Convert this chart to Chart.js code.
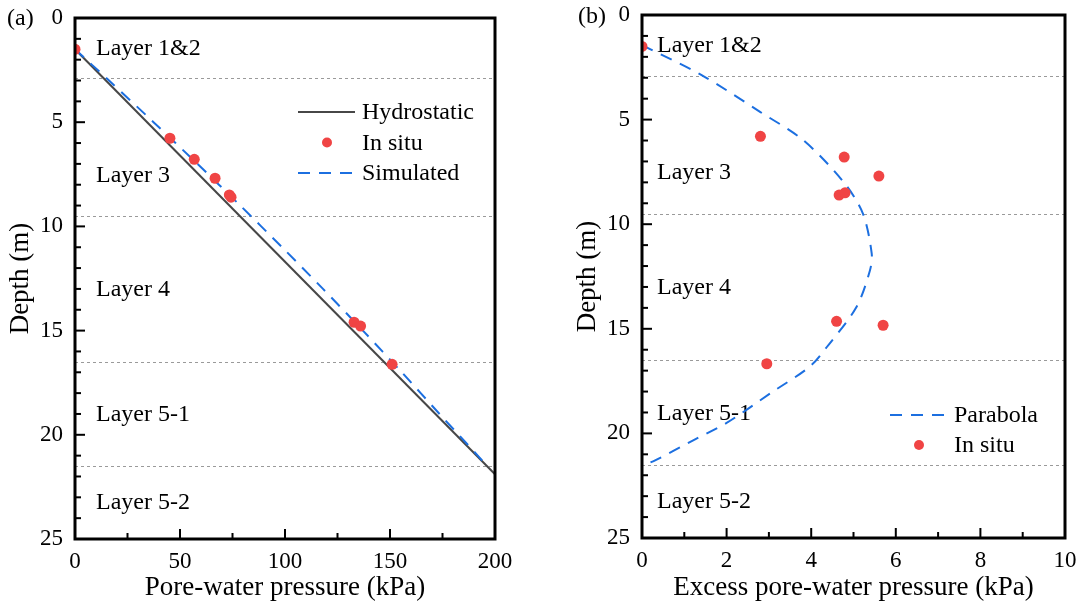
<!DOCTYPE html>
<html>
<head>
<meta charset="utf-8">
<script src="https://cdn.jsdelivr.net/npm/chart.js@4.4.1/dist/chart.umd.min.js"></script>
<style>
  html, body { margin: 0; padding: 0; background: #ffffff; }
  #wrap { position: relative; width: 1079px; height: 604px; overflow: hidden; }
  #ca { position: absolute; left: 0; top: 0; }
  #cb { position: absolute; left: 540px; top: 0; }
</style>
</head>
<body>
<div id="wrap">
  <canvas id="ca" width="540" height="604"></canvas>
  <canvas id="cb" width="539" height="604"></canvas>
</div>
<script>
// ---------------- DATA ----------------
// Panel (a): pore-water pressure (kPa) vs depth (m)
const hydroPressure = [0, 200];
const hydroDepth    = [1.5, 21.89];

const simPressure = [0, 16.2, 37.4, 58.3, 78.7, 98.6, 118.1, 137.1, 155.6, 173.6, 191.8, 196.2];
const simDepth    = [1.5, 3.0, 5.0, 7.0, 9.0, 11.0, 13.0, 15.0, 17.0, 19.0, 21.0, 21.5];

const insituPressureA = [0, 45.2, 56.8, 66.7, 73.5, 74.3, 132.9, 136.0, 151.0];
const insituDepthA    = [1.5, 5.77, 6.78, 7.69, 8.49, 8.60, 14.60, 14.78, 16.62];

// Panel (b): excess pore-water pressure (kPa) vs depth (m)
const parabolaExcess = [0, 1.41, 2.79, 3.81, 4.76, 5.22, 5.43, 5.39, 5.07, 4.37, 3.97, 3.03, 2.00, 1.21, 0.31, 0.05];
const parabolaDepth  = [1.44, 2.87, 4.63, 5.98, 7.97, 9.48, 11.4, 12.2, 13.96, 15.87, 16.8, 18.09, 19.5, 20.33, 21.29, 21.5];

const insituExcessB = [0, 2.80, 4.78, 5.60, 4.66, 4.80, 4.60, 5.70, 2.95];
const insituDepthB  = [1.5, 5.80, 6.79, 7.70, 8.61, 8.50, 14.64, 14.83, 16.67];

// Soil layers
const layerBoundaries = [2.9, 9.5, 16.5, 21.5];
const layerNames      = ['Layer 1&2', 'Layer 3', 'Layer 4', 'Layer 5-1', 'Layer 5-2'];
const layerLabelDepth = [1.45, 7.55, 13.05, 19.05, 23.25];

// Ticks
const depthRange = [0, 25];
const depthStep = 5;
const pressureRangeA = [0, 200];
const pressureStepA = 50;
const excessRangeB = [0, 10];
const excessStepB = 2;

// ---------------- STYLE ----------------
const FONT = "'Liberation Serif', 'Times New Roman', serif";
const RED = '#F04444';
const BLUE = '#1C6FE0';
const GREY = '#474747';
const DASH = [12, 9];
Chart.defaults.font.family = FONT;
Chart.defaults.color = '#000000';

function zip(xs, ys) { return xs.map((x, i) => ({ x: x, y: ys[i] })); }

const decorPlugin = {
  id: 'decor',
  beforeDatasetsDraw(chart) {
    const o = chart.options.plugins.decor;
    const ctx = chart.ctx;
    const ca = chart.chartArea;
    const ys = chart.scales.y;
    ctx.save();
    ctx.strokeStyle = '#9a9a9a';
    ctx.lineWidth = 1;
    ctx.setLineDash([3, 3]);
    layerBoundaries.forEach(d => {
      const py = Math.round(ys.getPixelForValue(d)) + 0.5;
      ctx.beginPath();
      ctx.moveTo(ca.left, py);
      ctx.lineTo(ca.right, py);
      ctx.stroke();
    });
    ctx.setLineDash([]);
    ctx.fillStyle = '#000';
    ctx.font = '24px ' + FONT;
    ctx.textAlign = 'left';
    ctx.textBaseline = 'middle';
    layerNames.forEach((n, i) => {
      ctx.fillText(n, ca.left + o.labelOffset, ys.getPixelForValue(layerLabelDepth[i]));
    });
    ctx.restore();
  },
  afterDraw(chart) {
    const o = chart.options.plugins.decor;
    const ctx = chart.ctx;
    const ca = chart.chartArea;
    const xs = chart.scales.x, ys = chart.scales.y;
    ctx.save();
    ctx.strokeStyle = '#000';
    ctx.lineWidth = 2;
    for (let v = ys.min; v <= ys.max + 1e-9; v += o.yMinor) {
      const major = Math.abs(v / o.yMajor - Math.round(v / o.yMajor)) < 1e-6;
      const py = ys.getPixelForValue(v);
      ctx.beginPath();
      ctx.moveTo(ca.left, py);
      ctx.lineTo(ca.left + (major ? 10 : 6), py);
      ctx.stroke();
    }
    for (let v = xs.min; v <= xs.max + 1e-9; v += o.xMinor) {
      const major = Math.abs(v / o.xMajor - Math.round(v / o.xMajor)) < 1e-6;
      const px = xs.getPixelForValue(v);
      ctx.beginPath();
      ctx.moveTo(px, ca.bottom);
      ctx.lineTo(px, ca.bottom - (major ? 10 : 6));
      ctx.stroke();
    }
    ctx.lineWidth = 3;
    ctx.strokeRect(ca.left, ca.top, ca.right - ca.left, ca.bottom - ca.top);
    ctx.fillStyle = '#000';
    ctx.font = '24px ' + FONT;
    ctx.textAlign = 'left';
    ctx.textBaseline = 'middle';
    ctx.fillText(o.tag, o.tagX, o.tagY);
    const L = o.legend;
    L.items.forEach((it, i) => {
      const yy = L.y + i * L.dy;
      if (it.type === 'line') {
        ctx.strokeStyle = it.color;
        ctx.lineWidth = 2;
        ctx.setLineDash(it.dash || []);
        ctx.beginPath();
        ctx.moveTo(L.x, yy);
        ctx.lineTo(L.x + 57, yy);
        ctx.stroke();
        ctx.setLineDash([]);
      } else {
        ctx.fillStyle = it.color;
        ctx.beginPath();
        ctx.arc(L.x + 29, yy, 5, 0, Math.PI * 2);
        ctx.fill();
      }
      ctx.fillStyle = '#000';
      ctx.fillText(it.label, L.x + 64, yy + 1);
    });
    ctx.restore();
  }
};

function makeScales(xRange, xStep, xTitle, yTitlePad, yWidth, xHeight) {
  return {
    x: {
      type: 'linear', min: xRange[0], max: xRange[1],
      grid: { display: true, drawOnChartArea: false, drawTicks: false, color: 'rgba(0,0,0,0)' },
      border: { display: false },
      ticks: { stepSize: xStep, padding: 9, autoSkip: false, maxRotation: 0, font: { size: 23 }, color: '#000' },
      title: { display: true, text: xTitle, font: { size: 27, lineHeight: 1.2 }, padding: { top: 0, bottom: 0 }, color: '#000' },
      afterFit(s) { s.height = xHeight; s.paddingLeft = 0; s.paddingRight = 0; }
    },
    y: {
      type: 'linear', min: depthRange[0], max: depthRange[1], reverse: true,
      grid: { display: true, drawOnChartArea: false, drawTicks: false, color: 'rgba(0,0,0,0)' },
      border: { display: false },
      ticks: { stepSize: depthStep, padding: 12, autoSkip: false, font: { size: 23 }, color: '#000' },
      title: { display: true, text: 'Depth (m)', font: { size: 27, lineHeight: 1.2 }, padding: { top: yTitlePad, bottom: 0 }, color: '#000' },
      afterFit(s) { s.width = yWidth; s.paddingTop = 0; s.paddingBottom = 0; }
    }
  };
}

// ---------------- CHART (a) ----------------
new Chart(document.getElementById('ca'), {
  type: 'scatter',
  data: {
    datasets: [
      { label: 'In situ', data: zip(insituPressureA, insituDepthA), pointRadius: 5.5, pointBackgroundColor: RED, pointBorderWidth: 0, showLine: false, order: 0 },
      { label: 'Simulated', data: zip(simPressure, simDepth), showLine: true, borderColor: BLUE, borderWidth: 2, borderDash: DASH, pointRadius: 0, tension: 0.3, fill: false, order: 1 },
      { label: 'Hydrostatic', data: zip(hydroPressure, hydroDepth), showLine: true, borderColor: GREY, borderWidth: 2, pointRadius: 0, fill: false, order: 2 }
    ]
  },
  options: {
    responsive: false, animation: false, devicePixelRatio: 1,
    layout: { padding: { top: 18, right: 45, left: 0, bottom: 0 } },
    scales: makeScales(pressureRangeA, pressureStepA, 'Pore-water pressure (kPa)', 5, 75, 65),
    plugins: {
      legend: { display: false }, tooltip: { enabled: false },
      decor: {
        labelOffset: 21, yMinor: 1, yMajor: 5, xMinor: 25, xMajor: 50,
        tag: '(a)', tagX: 7, tagY: 19,
        legend: { x: 298, y: 112, dy: 30.5, items: [
          { type: 'line', color: GREY, label: 'Hydrostatic' },
          { type: 'dot', color: RED, label: 'In situ' },
          { type: 'line', color: BLUE, dash: DASH, label: 'Simulated' }
        ] }
      }
    }
  },
  plugins: [decorPlugin]
});

// ---------------- CHART (b) ----------------
new Chart(document.getElementById('cb'), {
  type: 'scatter',
  data: {
    datasets: [
      { label: 'In situ', data: zip(insituExcessB, insituDepthB), pointRadius: 5.5, pointBackgroundColor: RED, pointBorderWidth: 0, showLine: false, order: 0 },
      { label: 'Parabola', data: zip(parabolaExcess, parabolaDepth), showLine: true, borderColor: BLUE, borderWidth: 2, borderDash: DASH, pointRadius: 0, tension: 0.3, fill: false, order: 1 }
    ]
  },
  options: {
    responsive: false, animation: false, devicePixelRatio: 1,
    layout: { padding: { top: 15, right: 14, left: 0, bottom: 0 } },
    scales: makeScales(excessRangeB, excessStepB, 'Excess pore-water pressure (kPa)', 32, 102, 66),
    plugins: {
      legend: { display: false }, tooltip: { enabled: false },
      decor: {
        labelOffset: 15, yMinor: 1, yMajor: 5, xMinor: 1, xMajor: 2,
        tag: '(b)', tagX: 38, tagY: 17,
        legend: { x: 350, y: 415, dy: 30, items: [
          { type: 'line', color: BLUE, dash: DASH, label: 'Parabola' },
          { type: 'dot', color: RED, label: 'In situ' }
        ] }
      }
    }
  },
  plugins: [decorPlugin]
});
</script>
</body>
</html>
